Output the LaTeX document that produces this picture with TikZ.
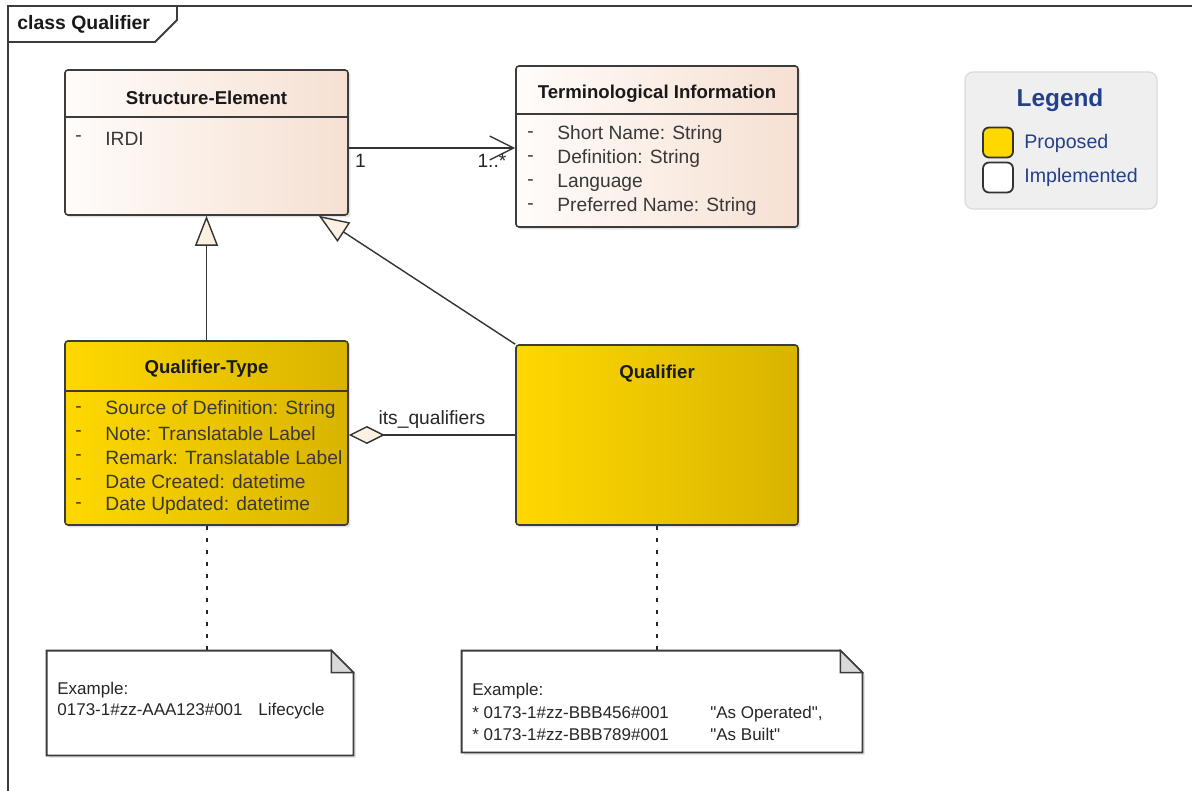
\documentclass[tikz,border=0pt]{standalone}
\usepackage{fontspec}
\setmainfont{Liberation Sans}
\usetikzlibrary{arrows.meta,shadows}
\definecolor{elemL}{HTML}{FFFCFA}
\definecolor{elemR}{HTML}{F6E0D2}
\definecolor{propL}{HTML}{FFD800}
\definecolor{propR}{HTML}{D8B400}
\definecolor{tipcol}{HTML}{FBF0E2}
\definecolor{boxline}{HTML}{3C3C3C}
\definecolor{connline}{HTML}{333333}
\definecolor{legendfill}{HTML}{EFEFEF}
\definecolor{legendline}{HTML}{DADADA}
\definecolor{legendcol}{HTML}{24408A}
\colorlet{attrcol}{black!78}
\colorlet{notecol}{black!85}
\tikzstyle{classbox}=[draw=boxline,line width=0.8pt,rounded corners=1.5pt,inner sep=0pt,
  drop shadow={shadow xshift=1.2pt,shadow yshift=-1.2pt,opacity=0.22}]
\tikzstyle{element}=[classbox,left color=elemL,right color=elemR]
\tikzstyle{proposed}=[classbox,left color=propL,right color=propR]
\tikzstyle{title}=[font=\fontsize{9.3}{11}\selectfont\bfseries,text=black!90]
\tikzstyle{attr}=[font=\fontsize{9.6}{11}\selectfont,text=attrcol,anchor=west,inner sep=0pt]
\tikzstyle{sepline}=[draw=boxline,line width=0.8pt]
\tikzstyle{conn}=[draw=connline,line width=0.7pt]
\tikzstyle{notebody}=[fill=white,draw=boxline,line width=0.9pt,
  drop shadow={shadow xshift=1.2pt,shadow yshift=-1.2pt,opacity=0.2}]
\tikzstyle{notetext}=[font=\fontsize{8.5}{10.5}\selectfont,text=notecol,align=left,anchor=west,inner sep=0pt]
\tikzset{
  generalize/.style={conn,-{Triangle[length=15pt,width=11.5pt,fill=tipcol]}},
  aggregate/.style={conn,-{Diamond[length=18pt,width=9pt,fill=tipcol]}},
  navigable/.style={conn,-{Straight Barb[length=12pt,width=12pt]}},
  depends/.style={draw=black!85,line width=1pt,dash pattern=on 2pt off 4pt},
  legendbox/.style={fill=legendfill,draw=legendline,line width=0.6pt,rounded corners=4pt,
                    minimum width=96pt,minimum height=68.5pt,inner sep=0pt},
  swatch/.style={draw=black!80,line width=0.9pt,rounded corners=3pt,minimum width=15pt,
                 minimum height=15pt,inner sep=0pt},
  legendtext/.style={font=\fontsize{9.8}{11}\selectfont,text=legendcol,anchor=west,inner sep=0pt}}

\begin{document}
\begin{tikzpicture}[x=0.5pt,y=-0.5pt]
  \def\fold{11pt}
  \useasboundingbox (0,0) rectangle (1192,791);

  % FRAME
  \draw[boxline,line width=0.9pt] (8,795) -- (8,6) -- (1195,6);
  \draw[boxline,line width=0.9pt] (8,42) -- (155,42) -- (177,20) -- (177,6);
  \node[title,font=\fontsize{9.7}{11}\selectfont\bfseries,anchor=west,inner sep=0pt] (frametitle)
    at (17,24) {class Qualifier};

  % CLASSES
  \node[element,minimum width=141.5pt,minimum height=72.5pt] (structure) at (206.5,142.5) {};
  \node[element,minimum width=141pt,minimum height=80.5pt] (term) at (657,146.5) {};
  \node[proposed,minimum width=141.5pt,minimum height=92pt] (qtype) at (206.5,433) {};
  \node[proposed,minimum width=141pt,minimum height=90pt] (qual) at (657,435) {};

  \draw[sepline] ([yshift=-24pt]structure.north west) -- ([yshift=-24pt]structure.north east);
  \draw[sepline] ([yshift=-24.5pt]term.north west) -- ([yshift=-24.5pt]term.north east);
  \draw[sepline] ([yshift=-25.5pt]qtype.north west) -- ([yshift=-25.5pt]qtype.north east);

  \node[title] (structureT) at (206.5,98) {Structure-Element};
  \node[title] (termT) at (657,94) {Terminological Information};
  \node[title] (qtypeT) at (206.5,369) {Qualifier-Type};
  \node[title] (qualT) at (657,374) {Qualifier};

  % ATTRIBUTES
  \node[attr] (structureD1) at (75,139) {-};
  \node[attr] (structureA1) at (105,139) {IRDI};
  \foreach \txt [count=\i, evaluate={\yy=111+24*\i;}] in
      {Short Name: String,Definition: String,Language,Preferred Name: String}{
    \node[attr] (termD\i) at (527,\yy) {-};
    \node[attr] (termA\i) at (557,\yy) {\txt};
  }
  \foreach \txt [count=\i, evaluate={\yy=386+24*\i;}] in
      {Source of Definition: String,Note: Translatable Label,Remark: Translatable Label,
       Date Created: datetime,Date Updated: datetime}{
    \node[attr] (qtypeD\i) at (75,\yy) {-};
    \node[attr] (qtypeA\i) at (105,\yy) {\txt};
  }

  % CONNECTORS
  \coordinate (assoc) at ([yshift=-2.75pt]structure.east);
  \draw[navigable] (assoc) -- (assoc -| term.west)
    node[pos=0.07,below=3pt,attr,anchor=north,text=black!85] (multA) {1}
    node[pos=0.86,below=3pt,attr,anchor=north,text=black!85] (multB) {1..*};
  \draw[generalize] (qtype.north) -- (structure.south);
  \draw[generalize] (qual.north west) -- ([xshift=-15pt]structure.south east);
  \draw[aggregate] (qual.west) -- (qual.west -| qtype.east)
    node[midway,above=2pt,font=\fontsize{9.6}{11}\selectfont,text=black!85,inner sep=1pt] (aggL) {its\_qualifiers};

  % NOTES
  \node[minimum width=153pt,minimum height=52pt,inner sep=0pt] (noteA) at (200,703) {};
  \node[minimum width=200pt,minimum height=50.5pt,inner sep=0pt] (noteB) at (662,701.5) {};
  \foreach \n in {noteA,noteB}{
    \draw[notebody] (\n.north west) -- ([xshift=-\fold]\n.north east)
      -- ([yshift=-\fold]\n.north east) -- (\n.south east) -- (\n.south west) -- cycle;
    \draw[fill=black!15,draw=boxline,line width=0.7pt] ([xshift=-\fold]\n.north east)
      -- ([xshift=-\fold,yshift=-\fold]\n.north east) -- ([yshift=-\fold]\n.north east) -- cycle;
  }
  \node[notetext] (noteAtext) at (57,700.5)
    {Example:\\\makebox[100.5pt][l]{0173-1\#zz-AAA123\#001}Lifecycle};
  \node[notetext,font=\fontsize{8.5}{11.2}\selectfont] (noteBtext) at (472,712)
    {Example:\\\makebox[119pt][l]{* 0173-1\#zz-BBB456\#001}\textquotedbl As Operated\textquotedbl,\\
     \makebox[119pt][l]{* 0173-1\#zz-BBB789\#001}\textquotedbl As Built\textquotedbl};
  \draw[depends] (qtype.south) -- (qtype.south |- noteA.north);
  \draw[depends] (qual.south) -- (qual.south |- noteB.north);

  % LEGEND
  \node[legendbox] (legend) at (1061,140.5) {};
  \node[font=\fontsize{12.2}{14}\selectfont\bfseries,text=legendcol,inner sep=0pt] (legendT)
    at (1060,100) {Legend};
  \node[swatch,fill=propL] (swProp) at (998,142.5) {};
  \node[swatch,fill=white] (swImpl) at (998,177.5) {};
  \node[legendtext] (legProp) at (1024,143) {Proposed};
  \node[legendtext] (legImpl) at (1024,177) {Implemented};
\end{tikzpicture}
\end{document}
